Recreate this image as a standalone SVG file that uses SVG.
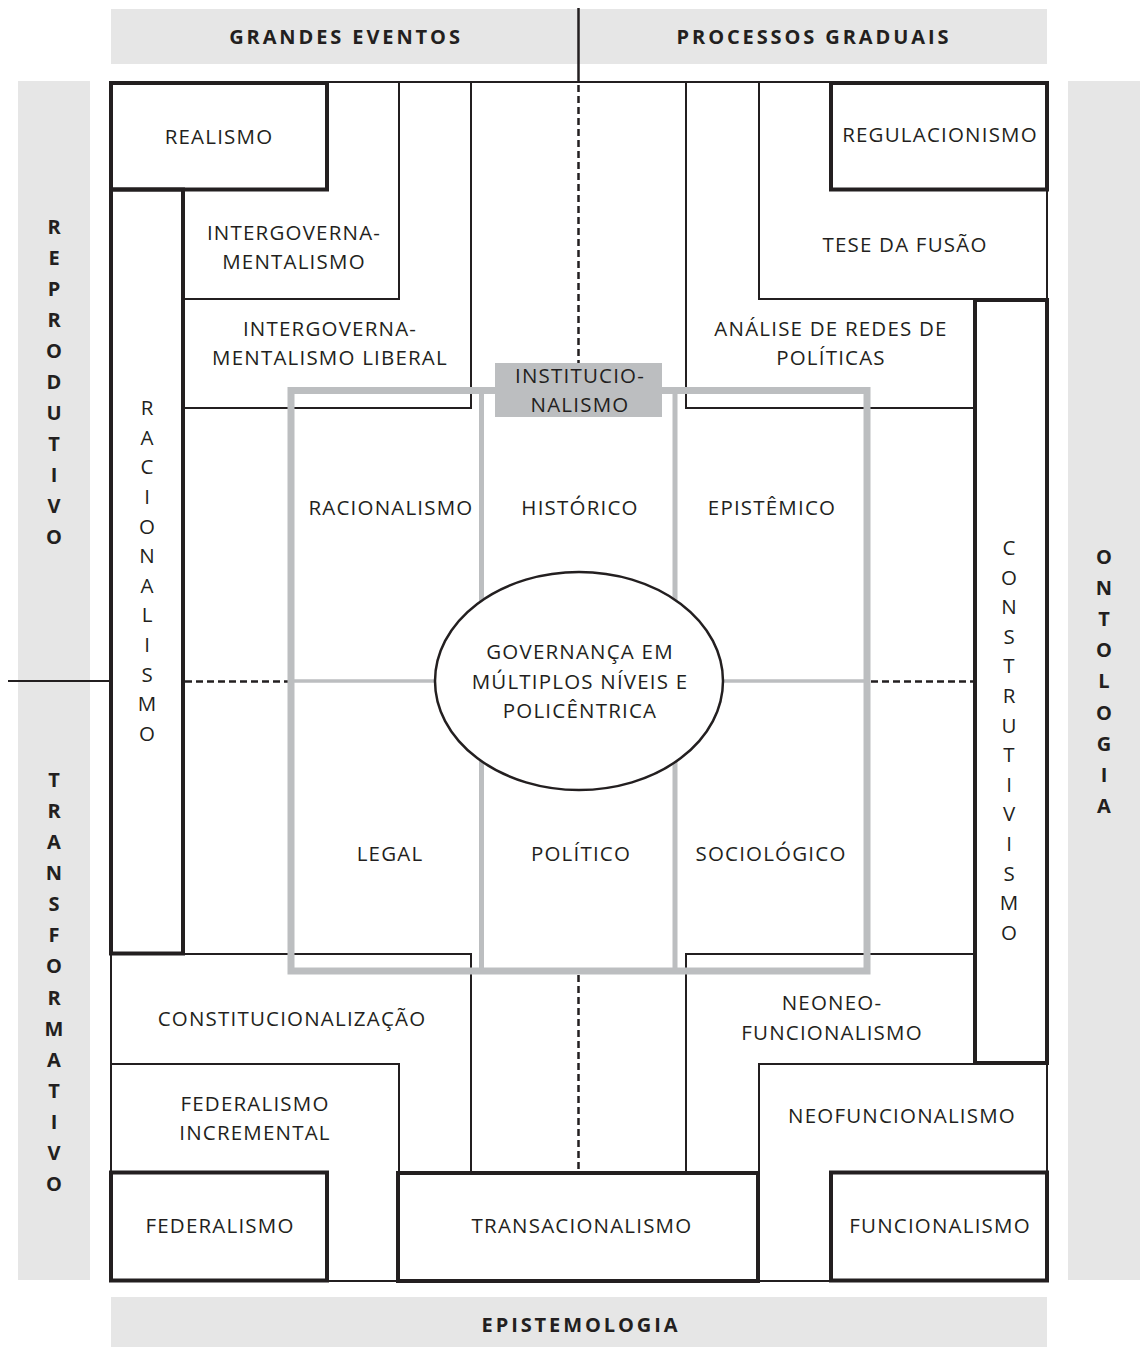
<svg xmlns="http://www.w3.org/2000/svg" width="1146" height="1347" viewBox="0 0 1146 1347">
<style>
.t{font-family:"Open Sans","Noto Sans","DejaVu Sans",sans-serif;font-size:20.5px;letter-spacing:1.2px;fill:#231f20;text-anchor:middle}
.b{font-weight:bold;font-size:20px;letter-spacing:2.9px}
.v{letter-spacing:0px}
.bar{fill:#e6e6e6}
.thick{fill:none;stroke:#231f20;stroke-width:4}
.thin{fill:none;stroke:#231f20;stroke-width:2}
.dash{fill:none;stroke:#231f20;stroke-width:2.5;stroke-dasharray:7 4}
.gray{fill:none;stroke:#bcbec0}
</style>
<rect x="0" y="0" width="1146" height="1347" fill="#ffffff"/>

<g id="bar-top">
<rect class="bar" x="111" y="9" width="936" height="55"/>
<text class="t b" x="346" y="44">GRANDES EVENTOS</text>
<text class="t b" x="814" y="44">PROCESSOS GRADUAIS</text>
</g>
<g id="bar-bottom">
<rect class="bar" x="111" y="1297" width="936" height="50"/>
<text class="t b" x="581" y="1332">EPISTEMOLOGIA</text>
</g>
<g id="bar-left">
<rect class="bar" x="18" y="81" width="72" height="1199"/>
<text class="t b v" x="54"><tspan x="54" y="234">R</tspan><tspan x="54" y="265">E</tspan><tspan x="54" y="296">P</tspan><tspan x="54" y="327">R</tspan><tspan x="54" y="358">O</tspan><tspan x="54" y="389">D</tspan><tspan x="54" y="420">U</tspan><tspan x="54" y="451">T</tspan><tspan x="54" y="482">I</tspan><tspan x="54" y="513">V</tspan><tspan x="54" y="544">O</tspan></text>
<text class="t b v" x="54"><tspan x="54" y="787">T</tspan><tspan x="54" y="818">R</tspan><tspan x="54" y="849">A</tspan><tspan x="54" y="880">N</tspan><tspan x="54" y="911">S</tspan><tspan x="54" y="942">F</tspan><tspan x="54" y="973">O</tspan><tspan x="54" y="1005">R</tspan><tspan x="54" y="1036">M</tspan><tspan x="54" y="1067">A</tspan><tspan x="54" y="1098">T</tspan><tspan x="54" y="1129">I</tspan><tspan x="54" y="1160">V</tspan><tspan x="54" y="1191">O</tspan></text>
</g>
<g id="bar-right">
<rect class="bar" x="1068" y="81" width="72" height="1199"/>
<text class="t b v" x="1104"><tspan x="1104" y="564">O</tspan><tspan x="1104" y="595">N</tspan><tspan x="1104" y="626">T</tspan><tspan x="1104" y="657">O</tspan><tspan x="1104" y="688">L</tspan><tspan x="1104" y="720">O</tspan><tspan x="1104" y="751">G</tspan><tspan x="1104" y="782">I</tspan><tspan x="1104" y="813">A</tspan></text>
</g>

<g id="connectors">
<line x1="578.5" y1="8" x2="578.5" y2="82" stroke="#231f20" stroke-width="2.5"/>
<line x1="8" y1="681" x2="111" y2="681" stroke="#231f20" stroke-width="2"/>
<line class="dash" x1="578.5" y1="85" x2="578.5" y2="363"/>
<line class="dash" x1="578.5" y1="975" x2="578.5" y2="1173"/>
<line class="dash" x1="185" y1="681.5" x2="288" y2="681.5"/>
<line class="dash" x1="871" y1="681.5" x2="973" y2="681.5"/>
<line class="thin" x1="327" y1="82" x2="831" y2="82"/>
<line class="thin" x1="111" y1="953" x2="111" y2="1173"/>
<line class="thin" x1="1047" y1="189" x2="1047" y2="300"/>
<line class="thin" x1="1047" y1="1063" x2="1047" y2="1173"/>
<line class="thin" x1="327" y1="1281" x2="398" y2="1281"/>
<line class="thin" x1="758" y1="1281" x2="831" y2="1281"/>
</g>

<g id="intergovernamentalismo">
<path class="thin" d="M183,299 H399 V82"/>
<text class="t" x="294" y="240">INTERGOVERNA-</text>
<text class="t" x="294" y="269">MENTALISMO</text>
</g>
<g id="intergovernamentalismo-liberal">
<path class="thin" d="M183,408 H471 V82"/>
<text class="t" x="330" y="336">INTERGOVERNA-</text>
<text class="t" x="330" y="365">MENTALISMO LIBERAL</text>
</g>
<g id="tese-da-fusao">
<path class="thin" d="M759,82 V299 H975"/>
<text class="t" x="905" y="252">TESE DA FUSÃO</text>
</g>
<g id="analise-redes">
<path class="thin" d="M686,82 V408 H975"/>
<text class="t" x="831" y="336">ANÁLISE DE REDES DE</text>
<text class="t" x="831" y="365">POLÍTICAS</text>
</g>
<g id="constitucionalizacao">
<path class="thin" d="M183,954 H471 V1173"/>
<text class="t" x="292" y="1026">CONSTITUCIONALIZAÇÃO</text>
</g>
<g id="federalismo-incremental">
<path class="thin" d="M111,1064 H399 V1173"/>
<text class="t" x="255" y="1111">FEDERALISMO</text>
<text class="t" x="255" y="1140">INCREMENTAL</text>
</g>
<g id="neoneofuncionalismo">
<path class="thin" d="M686,1173 V954 H975"/>
<text class="t" x="832" y="1010">NEONEO-</text>
<text class="t" x="832" y="1040">FUNCIONALISMO</text>
</g>
<g id="neofuncionalismo">
<path class="thin" d="M759,1173 V1064 H1047"/>
<text class="t" x="902" y="1123">NEOFUNCIONALISMO</text>
</g>

<g id="institucionalismo-frame">
<line class="gray" x1="291" y1="681" x2="867" y2="681" stroke-width="3.5"/>
<line class="gray" x1="481.5" y1="390" x2="481.5" y2="971" stroke-width="5"/>
<line class="gray" x1="675" y1="390" x2="675" y2="971" stroke-width="5"/>
<rect class="gray" x="291" y="390.5" width="576" height="580.5" stroke-width="7"/>
</g>
<g id="institucionalismo">
<rect x="495" y="363" width="167" height="54" fill="#bcbec0"/>
<text class="t" x="580" y="383">INSTITUCIO-</text>
<text class="t" x="580" y="412">NALISMO</text>
</g>
<g id="racionalismo-inst"><text class="t" x="391" y="515">RACIONALISMO</text></g>
<g id="historico"><text class="t" x="580" y="515">HISTÓRICO</text></g>
<g id="epistemico"><text class="t" x="772" y="515">EPISTÊMICO</text></g>
<g id="legal"><text class="t" x="390" y="861">LEGAL</text></g>
<g id="politico"><text class="t" x="581" y="861">POLÍTICO</text></g>
<g id="sociologico"><text class="t" x="771" y="861">SOCIOLÓGICO</text></g>

<g id="governanca">
<ellipse cx="579" cy="681" rx="144" ry="109" fill="#ffffff" stroke="#231f20" stroke-width="2.5"/>
<text class="t" x="580" y="659">GOVERNANÇA EM</text>
<text class="t" x="580" y="689">MÚLTIPLOS NÍVEIS E</text>
<text class="t" x="580" y="718">POLICÊNTRICA</text>
</g>

<g id="realismo">
<rect class="thick" x="111" y="83" width="216" height="106.5"/>
<text class="t" x="219" y="144">REALISMO</text>
</g>
<g id="racionalismo">
<rect class="thick" x="111" y="189.5" width="72" height="764"/>
<text class="t v" x="147"><tspan x="147" y="415">R</tspan><tspan x="147" y="445">A</tspan><tspan x="147" y="474">C</tspan><tspan x="147" y="504">I</tspan><tspan x="147" y="534">O</tspan><tspan x="147" y="563">N</tspan><tspan x="147" y="593">A</tspan><tspan x="147" y="622">L</tspan><tspan x="147" y="652">I</tspan><tspan x="147" y="682">S</tspan><tspan x="147" y="711">M</tspan><tspan x="147" y="741">O</tspan></text>
</g>
<g id="regulacionismo">
<rect class="thick" x="831" y="83" width="216" height="106.5"/>
<text class="t" x="940" y="142">REGULACIONISMO</text>
</g>
<g id="construtivismo">
<rect class="thick" x="975" y="300" width="72" height="763"/>
<text class="t v" x="1009"><tspan x="1009" y="555">C</tspan><tspan x="1009" y="585">O</tspan><tspan x="1009" y="614">N</tspan><tspan x="1009" y="644">S</tspan><tspan x="1009" y="673">T</tspan><tspan x="1009" y="703">R</tspan><tspan x="1009" y="733">U</tspan><tspan x="1009" y="762">T</tspan><tspan x="1009" y="792">I</tspan><tspan x="1009" y="821">V</tspan><tspan x="1009" y="851">I</tspan><tspan x="1009" y="881">S</tspan><tspan x="1009" y="910">M</tspan><tspan x="1009" y="940">O</tspan></text>
</g>
<g id="federalismo">
<rect class="thick" x="111" y="1172.5" width="216" height="108"/>
<text class="t" x="220" y="1233">FEDERALISMO</text>
</g>
<g id="transacionalismo">
<rect class="thick" x="398" y="1173" width="360" height="108"/>
<text class="t" x="582" y="1233">TRANSACIONALISMO</text>
</g>
<g id="funcionalismo">
<rect class="thick" x="831" y="1172.5" width="216" height="108"/>
<text class="t" x="940" y="1233">FUNCIONALISMO</text>
</g>
</svg>
